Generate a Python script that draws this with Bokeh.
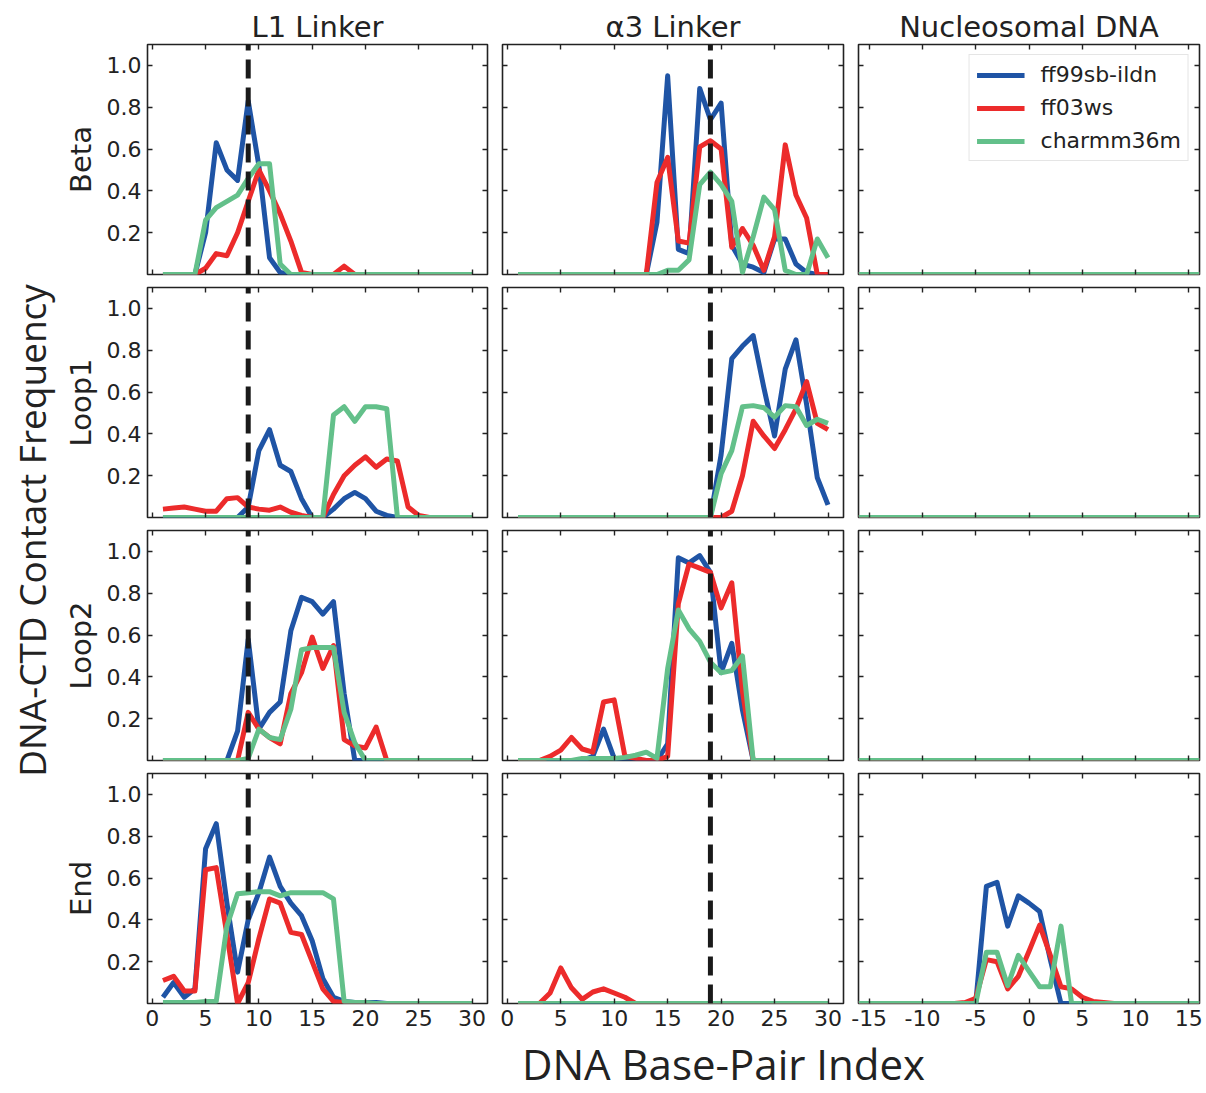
import math
from bokeh.plotting import figure
from bokeh.models import (LinearAxis, FixedTicker, Range1d, Legend, LegendItem,
                          Label, CustomJSTickFormatter, PrintfTickFormatter)
from bokeh.layouts import row, column
from bokeh.embed import file_html
from bokeh.resources import INLINE

# ---------------- data ----------------
forcefields = ["ff99sb-ildn", "ff03ws", "charmm36m"]
ff_colors = ["#1f54a5", "#ec2b2b", "#63c08a"]
row_names = ["Beta", "Loop1", "Loop2", "End"]
col_names = ["L1 Linker", "α3 Linker", "Nucleosomal DNA"]

x_linker = [1, 2, 3, 4, 5, 6, 7, 8, 9, 10, 11, 12, 13, 14, 15,
            16, 17, 18, 19, 20, 21, 22, 23, 24, 25, 26, 27, 28, 29, 30]
x_nucl = [-16, -15, -14, -13, -12, -11, -10, -9, -8, -7, -6, -5, -4, -3, -2, -1, 0,
          1, 2, 3, 4, 5, 6, 7, 8, 9, 10, 11, 12, 13, 14, 15, 16]

linker_ticks = [0, 5, 10, 15, 20, 25, 30]
nucl_ticks = [-15, -10, -5, 0, 5, 10, 15]
y_ticks = [0.2, 0.4, 0.6, 0.8, 1.0]
dyad_marker = {"L1 Linker": 9, "α3 Linker": 19}

# Beta
beta_l1_ff99 = [0, 0, 0, 0, 0.20, 0.63, 0.50, 0.45, 0.83, 0.52, 0.08, 0.01, 0, 0, 0,
                0, 0, 0, 0, 0, 0, 0, 0, 0, 0, 0, 0, 0, 0, 0]
beta_l1_ff03 = [0, 0, 0, 0, 0.03, 0.10, 0.09, 0.20, 0.35, 0.50, 0.40, 0.29, 0.16, 0.01, 0,
                0, 0, 0.04, 0, 0, 0, 0, 0, 0, 0, 0, 0, 0, 0, 0]
beta_l1_c36m = [0, 0, 0, 0, 0.26, 0.32, 0.35, 0.38, 0.46, 0.53, 0.53, 0.05, 0, 0, 0,
                0, 0, 0, 0, 0, 0, 0, 0, 0, 0, 0, 0, 0, 0, 0]
beta_a3_ff99 = [0, 0, 0, 0, 0, 0, 0, 0, 0, 0, 0, 0, 0, 0.25, 0.95,
                0.12, 0.10, 0.89, 0.74, 0.82, 0.14, 0.05, 0.035, 0.01, 0.17, 0.17, 0.05, 0.01, 0, 0]
beta_a3_ff03 = [0, 0, 0, 0, 0, 0, 0, 0, 0, 0, 0, 0, 0, 0.44, 0.56,
                0.16, 0.15, 0.61, 0.64, 0.60, 0.13, 0.22, 0.14, 0.02, 0.18, 0.62, 0.38, 0.27, 0, 0]
beta_a3_c36m = [0, 0, 0, 0, 0, 0, 0, 0, 0, 0, 0, 0, 0, 0, 0.02,
                0.02, 0.07, 0.43, 0.49, 0.43, 0.35, 0.01, 0.18, 0.37, 0.31, 0.02, 0, 0, 0.17, 0.08]

# Loop1
loop1_l1_ff99 = [0, 0, 0, 0, 0, 0, 0, 0, 0.05, 0.32, 0.42, 0.25, 0.22, 0.09, 0,
                 0, 0.04, 0.09, 0.12, 0.09, 0.03, 0.01, 0, 0, 0, 0, 0, 0, 0, 0]
loop1_l1_ff03 = [0.04, 0.045, 0.05, 0.04, 0.03, 0.03, 0.09, 0.095, 0.05, 0.04, 0.035, 0.05, 0.025, 0.01, 0,
                 0, 0.11, 0.20, 0.25, 0.29, 0.24, 0.28, 0.27, 0.05, 0.01, 0, 0, 0, 0, 0]
loop1_l1_c36m = [0, 0, 0, 0, 0, 0, 0, 0, 0, 0, 0, 0, 0, 0, 0,
                 0, 0.49, 0.53, 0.46, 0.53, 0.53, 0.52, 0, 0, 0, 0, 0, 0, 0, 0]
loop1_a3_ff99 = [0, 0, 0, 0, 0, 0, 0, 0, 0, 0, 0, 0, 0, 0, 0,
                 0, 0, 0, 0, 0.30, 0.76, 0.82, 0.87, 0.62, 0.39, 0.71, 0.85, 0.54, 0.19, 0.06]
loop1_a3_ff03 = [0, 0, 0, 0, 0, 0, 0, 0, 0, 0, 0, 0, 0, 0, 0,
                 0, 0, 0, 0, 0, 0.03, 0.20, 0.46, 0.39, 0.33, 0.42, 0.52, 0.65, 0.45, 0.42]
loop1_a3_c36m = [0, 0, 0, 0, 0, 0, 0, 0, 0, 0, 0, 0, 0, 0, 0,
                 0, 0, 0, 0, 0.21, 0.32, 0.53, 0.535, 0.525, 0.48, 0.535, 0.53, 0.44, 0.47, 0.45]

# Loop2
loop2_l1_ff99 = [0, 0, 0, 0, 0, 0, 0, 0.14, 0.58, 0.15, 0.23, 0.28, 0.62, 0.78, 0.76,
                 0.70, 0.76, 0.32, 0, 0, 0, 0, 0, 0, 0, 0, 0, 0, 0, 0]
loop2_l1_ff03 = [0, 0, 0, 0, 0, 0, 0, 0, 0.23, 0.15, 0.11, 0.08, 0.32, 0.42, 0.59,
                 0.44, 0.55, 0.10, 0.07, 0.06, 0.16, 0, 0, 0, 0, 0, 0, 0, 0, 0]
loop2_l1_c36m = [0, 0, 0, 0, 0, 0, 0, 0, 0.01, 0.15, 0.11, 0.10, 0.245, 0.53, 0.54,
                 0.54, 0.54, 0.23, 0.085, 0, 0, 0, 0, 0, 0, 0, 0, 0, 0, 0]
loop2_a3_ff99 = [0, 0, 0, 0, 0, 0, 0, 0.02, 0.15, 0.01, 0, 0, 0, 0, 0.08,
                 0.97, 0.945, 0.98, 0.90, 0.42, 0.56, 0.24, 0, 0, 0, 0, 0, 0, 0, 0]
loop2_a3_ff03 = [0, 0, 0, 0.02, 0.05, 0.11, 0.055, 0.04, 0.28, 0.29, 0.02, 0.01, 0, 0, 0.02,
                 0.75, 0.94, 0.92, 0.90, 0.73, 0.85, 0.33, 0, 0, 0, 0, 0, 0, 0, 0]
loop2_a3_c36m = [0, 0, 0, 0, 0, 0, 0.01, 0.01, 0.01, 0.01, 0.015, 0.025, 0.04, 0.01, 0.44,
                 0.72, 0.63, 0.57, 0.47, 0.42, 0.43, 0.50, 0, 0, 0, 0, 0, 0, 0, 0]

# End
end_l1_ff99 = [0.03, 0.10, 0.03, 0.07, 0.74, 0.86, 0.48, 0.15, 0.40, 0.53, 0.70, 0.56, 0.48, 0.42, 0.30,
               0.12, 0.03, 0.01, 0.005, 0.005, 0.005, 0, 0, 0, 0, 0, 0, 0, 0, 0]
end_l1_ff03 = [0.11, 0.13, 0.06, 0.06, 0.64, 0.65, 0.33, 0.0, 0.10, 0.31, 0.50, 0.48, 0.34, 0.33, 0.20,
               0.07, 0.01, 0.005, 0, 0, 0, 0, 0, 0, 0, 0, 0, 0, 0, 0]
end_l1_c36m = [0.005, 0.005, 0.005, 0.005, 0.01, 0.01, 0.37, 0.525, 0.53, 0.535, 0.535, 0.515, 0.53, 0.53, 0.53,
               0.53, 0.50, 0.01, 0.005, 0.005, 0, 0, 0, 0, 0, 0, 0, 0, 0, 0]
end_a3_ff99 = [0, 0, 0, 0, 0, 0, 0, 0, 0, 0, 0, 0, 0, 0, 0,
               0, 0, 0, 0, 0, 0, 0, 0, 0, 0, 0, 0, 0, 0, 0]
end_a3_ff03 = [0, 0, 0, 0.05, 0.17, 0.075, 0.02, 0.055, 0.07, 0.05, 0.03, 0, 0, 0, 0,
               0, 0, 0, 0, 0, 0, 0, 0, 0, 0, 0, 0, 0, 0, 0]
end_a3_c36m = [0, 0, 0, 0, 0, 0, 0, 0, 0, 0, 0, 0, 0, 0, 0,
               0, 0, 0, 0, 0, 0, 0, 0, 0, 0, 0, 0, 0, 0, 0]
end_nuc_ff99 = [0, 0, 0, 0, 0, 0, 0, 0, 0, 0, 0, 0, 0.56, 0.58, 0.37, 0.515, 0.48,
                0.44, 0.21, 0, 0, 0, 0, 0, 0, 0, 0, 0, 0, 0, 0, 0, 0]
end_nuc_ff03 = [0, 0, 0, 0, 0, 0, 0, 0, 0, 0, 0.005, 0.025, 0.21, 0.20, 0.07, 0.13, 0.25,
                0.375, 0.23, 0.08, 0.07, 0.03, 0.01, 0.005, 0, 0, 0, 0, 0, 0, 0, 0, 0]
end_nuc_c36m = [0, 0, 0, 0, 0, 0, 0, 0, 0, 0, 0, 0, 0.245, 0.245, 0.085, 0.23, 0.155,
                0.08, 0.08, 0.37, 0, 0, 0, 0, 0, 0, 0, 0, 0, 0, 0, 0, 0]
nuc_zero = [0, 0, 0, 0, 0, 0, 0, 0, 0, 0, 0, 0, 0, 0, 0, 0, 0,
            0, 0, 0, 0, 0, 0, 0, 0, 0, 0, 0, 0, 0, 0, 0, 0]

panels = {
    (0, 0): (x_linker, [beta_l1_ff99, beta_l1_ff03, beta_l1_c36m]),
    (0, 1): (x_linker, [beta_a3_ff99, beta_a3_ff03, beta_a3_c36m]),
    (0, 2): (x_nucl, [nuc_zero, nuc_zero, nuc_zero]),
    (1, 0): (x_linker, [loop1_l1_ff99, loop1_l1_ff03, loop1_l1_c36m]),
    (1, 1): (x_linker, [loop1_a3_ff99, loop1_a3_ff03, loop1_a3_c36m]),
    (1, 2): (x_nucl, [nuc_zero, nuc_zero, nuc_zero]),
    (2, 0): (x_linker, [loop2_l1_ff99, loop2_l1_ff03, loop2_l1_c36m]),
    (2, 1): (x_linker, [loop2_a3_ff99, loop2_a3_ff03, loop2_a3_c36m]),
    (2, 2): (x_nucl, [nuc_zero, nuc_zero, nuc_zero]),
    (3, 0): (x_linker, [end_l1_ff99, end_l1_ff03, end_l1_c36m]),
    (3, 1): (x_linker, [end_a3_ff99, end_a3_ff03, end_a3_c36m]),
    (3, 2): (x_nucl, [end_nuc_ff99, end_nuc_ff03, end_nuc_c36m]),
}

# ---------------- layout / style ----------------
FRAME_W, FRAME_H = 341, 230
LEFT_B = [86, 8, 8]
RIGHT_B = [7, 7, 7]
TOP_B = [44, 7, 7, 7]
BOTTOM_B = [6, 6, 6, 32]
Y_LO, Y_HI = 0.0, 1.1
X_RANGES = [(-0.45, 31.45), (-0.45, 31.45), (-16.0, 16.0)]
INK = "#222222"
FONT = "DejaVu Sans"
BIG_FONT = "Open Sans"


def no_grid(p):
    for g in p.xgrid + p.ygrid:
        g.grid_line_color = None
        g.visible = False


def add_axis(p, place, ticks, labelled, fmt=None, axis_label=None):
    ax = LinearAxis(ticker=FixedTicker(ticks=ticks))
    ax.axis_line_color = None
    ax.major_tick_in = 5
    ax.major_tick_out = 0
    ax.minor_tick_in = 0
    ax.minor_tick_out = 0
    ax.major_tick_line_color = INK
    ax.major_tick_line_width = 1.4
    if labelled:
        ax.formatter = PrintfTickFormatter(format=fmt)
        ax.major_label_text_font = FONT
        ax.major_label_text_font_size = "22px"
        ax.major_label_text_color = INK
        ax.major_label_standoff = 6
    else:
        ax.formatter = CustomJSTickFormatter(code="return '';")
        ax.major_label_text_font_size = "0px"
        ax.major_label_standoff = 0
    if axis_label:
        ax.axis_label = axis_label
        ax.axis_label_text_font = FONT
        ax.axis_label_text_font_size = "29px"
        ax.axis_label_text_font_style = "normal"
        ax.axis_label_text_color = INK
        ax.axis_label_standoff = 6
    p.add_layout(ax, place)
    return ax


grid_rows = []
for r in range(4):
    figs = []
    for c in range(3):
        xs, series = panels[(r, c)]
        p = figure(width=LEFT_B[c] + FRAME_W + RIGHT_B[c],
                   height=TOP_B[r] + FRAME_H + BOTTOM_B[r],
                   x_range=Range1d(*X_RANGES[c]), y_range=Range1d(Y_LO, Y_HI),
                   x_axis_location=None, y_axis_location=None,
                   toolbar_location=None, output_backend="svg",
                   min_border_left=LEFT_B[c], min_border_right=RIGHT_B[c],
                   min_border_top=TOP_B[r], min_border_bottom=BOTTOM_B[r])
        no_grid(p)
        p.outline_line_color = INK
        p.outline_line_width = 1.6
        p.background_fill_color = "white"
        p.border_fill_color = "white"
        xt = linker_ticks if c < 2 else nucl_ticks
        add_axis(p, "below", xt, labelled=(r == 3), fmt="%d")
        add_axis(p, "above", xt, labelled=False)
        add_axis(p, "left", y_ticks, labelled=(c == 0), fmt="%.1f",
                 axis_label=row_names[r] if c == 0 else None)
        add_axis(p, "right", y_ticks, labelled=False)

        rends = []
        for ys, col in zip(series, ff_colors):
            rends.append(p.line(xs, ys, line_color=col, line_width=5,
                                line_join="round"))
        name = col_names[c]
        if name in dyad_marker:
            v = dyad_marker[name]
            p.line([v, v], [Y_LO, Y_HI], line_color="#1a1a1a", line_width=5,
                   line_dash="19 9")
        if r == 0:
            p.title.text = name
            p.title.align = "center"
            p.title.text_font = FONT
            p.title.text_font_size = "29px"
            p.title.text_font_style = "normal"
            p.title.text_color = INK
            p.title.standoff = 2
        if r == 0 and c == 2:
            items = [LegendItem(label=lab, renderers=[rd])
                     for lab, rd in zip(forcefields, rends)]
            lg = Legend(items=items, location="top_right")
            lg.label_text_font = FONT
            lg.label_text_font_size = "22px"
            lg.label_text_color = INK
            lg.glyph_width = 48
            lg.glyph_height = 24
            lg.label_height = 24
            lg.label_standoff = 16
            lg.spacing = 8
            lg.padding = 7
            lg.margin = 10
            lg.border_line_color = "#cccccc"
            lg.border_line_width = 1.5
            lg.background_fill_alpha = 0.85
            p.add_layout(lg)
        figs.append(p)
    grid_rows.append(row(*figs, spacing=0))

GRID_W = sum(LEFT_B) + sum(RIGHT_B) + 3 * FRAME_W
GRID_H = sum(TOP_B) + sum(BOTTOM_B) + 4 * FRAME_H
PAGE_H = 1093
LEFT_W = 60
XLAB_H = PAGE_H - GRID_H

left_fig = figure(width=LEFT_W, height=PAGE_H, x_range=Range1d(0, LEFT_W),
                  y_range=Range1d(0, PAGE_H), x_axis_location=None,
                  y_axis_location=None, toolbar_location=None,
                  output_backend="svg", min_border=0)
no_grid(left_fig)
left_fig.outline_line_color = None
left_fig.add_layout(Label(x=31, y=PAGE_H - 530, text="DNA-CTD Contact Frequency",
                          angle=math.pi / 2, text_align="center",
                          text_baseline="middle", text_font=BIG_FONT,
                          text_font_size="37px", text_color=INK))

xlab_fig = figure(width=GRID_W, height=XLAB_H, x_range=Range1d(0, GRID_W),
                  y_range=Range1d(0, XLAB_H), x_axis_location=None,
                  y_axis_location=None, toolbar_location=None,
                  output_backend="svg", min_border=0)
no_grid(xlab_fig)
xlab_fig.outline_line_color = None
xlab_fig.add_layout(Label(x=723 - LEFT_W, y=XLAB_H / 2 + 1,
                          text="DNA Base-Pair Index",
                          text_align="center", text_baseline="middle",
                          text_font=BIG_FONT, text_font_size="42px",
                          text_color=INK))

right_part = column(*grid_rows, xlab_fig, spacing=0)
layout = row(left_fig, right_part, spacing=0)

with open("out.html", "w", encoding="utf-8") as f:
    f.write(file_html(layout, INLINE, title="DNA-CTD contact frequency"))
